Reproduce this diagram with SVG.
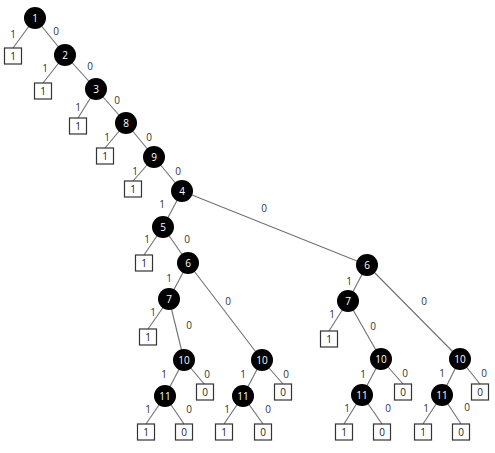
<svg xmlns="http://www.w3.org/2000/svg" width="495" height="453" viewBox="0 0 495 453">
<style>
.e{stroke:#707070;stroke-width:1.1;fill:none}
.c{fill:#000}
.b{fill:#fff;stroke:#333;stroke-width:1.2}
.t{font-family:"Open Sans","Liberation Sans",sans-serif;font-size:10px;text-anchor:middle;dominant-baseline:central}
.w{fill:#fff}
.k{fill:#222}
.l{font-family:"Open Sans","Liberation Sans",sans-serif;font-size:10px;text-anchor:middle;dominant-baseline:central;fill:#333}
</style>
<rect width="495" height="453" fill="#fff"/>
<g id="connectors">
<line class="e" x1="35" y1="18" x2="13" y2="48"/>
<line class="e" x1="35" y1="18" x2="65" y2="55"/>
<line class="e" x1="65" y1="55" x2="43" y2="83"/>
<line class="e" x1="65" y1="55" x2="96" y2="89"/>
<line class="e" x1="96" y1="89" x2="78" y2="118"/>
<line class="e" x1="96" y1="89" x2="126" y2="123"/>
<line class="e" x1="126" y1="123" x2="105" y2="148"/>
<line class="e" x1="126" y1="123" x2="154" y2="157"/>
<line class="e" x1="154" y1="157" x2="133" y2="181"/>
<line class="e" x1="154" y1="157" x2="182" y2="191"/>
<line class="e" x1="182" y1="191" x2="163" y2="227"/>
<line class="e" x1="182" y1="191" x2="367" y2="265"/>
<line class="e" x1="163" y1="227" x2="144" y2="255"/>
<line class="e" x1="163" y1="227" x2="188" y2="263"/>
<line class="e" x1="188" y1="263" x2="169" y2="299"/>
<line class="e" x1="188" y1="263" x2="262" y2="360"/>
<line class="e" x1="169" y1="299" x2="148" y2="329"/>
<line class="e" x1="169" y1="299" x2="184" y2="360"/>
<line class="e" x1="184" y1="360" x2="165" y2="396"/>
<line class="e" x1="184" y1="360" x2="205" y2="385"/>
<line class="e" x1="165" y1="396" x2="146" y2="424"/>
<line class="e" x1="165" y1="396" x2="184" y2="424"/>
<line class="e" x1="262" y1="360" x2="243" y2="396"/>
<line class="e" x1="262" y1="360" x2="283" y2="384"/>
<line class="e" x1="243" y1="396" x2="224" y2="424"/>
<line class="e" x1="243" y1="396" x2="263" y2="424"/>
<line class="e" x1="367" y1="265" x2="348" y2="301"/>
<line class="e" x1="367" y1="265" x2="460" y2="359"/>
<line class="e" x1="348" y1="301" x2="329" y2="331"/>
<line class="e" x1="348" y1="301" x2="381" y2="359"/>
<line class="e" x1="381" y1="359" x2="362" y2="395"/>
<line class="e" x1="381" y1="359" x2="403" y2="384"/>
<line class="e" x1="362" y1="395" x2="344" y2="424"/>
<line class="e" x1="362" y1="395" x2="382" y2="424"/>
<line class="e" x1="460" y1="359" x2="442" y2="395"/>
<line class="e" x1="460" y1="359" x2="480" y2="384"/>
<line class="e" x1="442" y1="395" x2="423" y2="424"/>
<line class="e" x1="442" y1="395" x2="461" y2="424"/>
</g>
<g id="edge-labels">
<text class="l" x="13" y="34">1</text><text class="l" x="56" y="31">0</text>
<text class="l" x="45" y="68">1</text><text class="l" x="90" y="66">0</text>
<text class="l" x="78" y="107">1</text><text class="l" x="117" y="100">0</text>
<text class="l" x="107" y="137">1</text><text class="l" x="149" y="137">0</text>
<text class="l" x="135" y="171">1</text><text class="l" x="178" y="171">0</text>
<text class="l" x="162" y="204">1</text><text class="l" x="264" y="208">0</text>
<text class="l" x="147" y="239">1</text><text class="l" x="187" y="239">0</text>
<text class="l" x="169" y="278">1</text><text class="l" x="228" y="301">0</text>
<text class="l" x="153" y="312">1</text><text class="l" x="189" y="325">0</text>
<text class="l" x="164" y="374">1</text><text class="l" x="207" y="374">0</text>
<text class="l" x="148" y="409">1</text><text class="l" x="189" y="409">0</text>
<text class="l" x="243" y="374">1</text><text class="l" x="286" y="374">0</text>
<text class="l" x="227" y="409">1</text><text class="l" x="268" y="409">0</text>
<text class="l" x="349" y="281">1</text><text class="l" x="424" y="301">0</text>
<text class="l" x="332" y="314">1</text><text class="l" x="373" y="326">0</text>
<text class="l" x="363" y="374">1</text><text class="l" x="405" y="373">0</text>
<text class="l" x="347" y="408">1</text><text class="l" x="388" y="408">0</text>
<text class="l" x="442" y="373">1</text><text class="l" x="484" y="373">0</text>
<text class="l" x="426" y="408">1</text><text class="l" x="467" y="407">0</text>
</g>
<g id="node-1"><circle class="c" cx="35" cy="18" r="11"/><text class="t w" x="35" y="18">1</text></g>
<g id="node-2"><circle class="c" cx="65" cy="55" r="11"/><text class="t w" x="65" y="55">2</text></g>
<g id="node-3"><circle class="c" cx="96" cy="89" r="11"/><text class="t w" x="96" y="89">3</text></g>
<g id="node-8"><circle class="c" cx="126" cy="123" r="11"/><text class="t w" x="126" y="123">8</text></g>
<g id="node-9"><circle class="c" cx="154" cy="157" r="11"/><text class="t w" x="154" y="157">9</text></g>
<g id="node-4"><circle class="c" cx="182" cy="191" r="11"/><text class="t w" x="182" y="191">4</text></g>
<g id="node-5"><circle class="c" cx="163" cy="227" r="11"/><text class="t w" x="163" y="227">5</text></g>
<g id="node-6a"><circle class="c" cx="188" cy="263" r="11"/><text class="t w" x="188" y="263">6</text></g>
<g id="node-7a"><circle class="c" cx="169" cy="299" r="11"/><text class="t w" x="169" y="299">7</text></g>
<g id="node-10a"><circle class="c" cx="184" cy="360" r="11"/><text class="t w" x="184" y="360">10</text></g>
<g id="node-11a"><circle class="c" cx="165" cy="396" r="11"/><text class="t w" x="165" y="396">11</text></g>
<g id="node-10b"><circle class="c" cx="262" cy="360" r="11"/><text class="t w" x="262" y="360">10</text></g>
<g id="node-11b"><circle class="c" cx="243" cy="396" r="11"/><text class="t w" x="243" y="396">11</text></g>
<g id="node-6b"><circle class="c" cx="367" cy="265" r="11"/><text class="t w" x="367" y="265">6</text></g>
<g id="node-7b"><circle class="c" cx="348" cy="301" r="11"/><text class="t w" x="348" y="301">7</text></g>
<g id="node-10c"><circle class="c" cx="381" cy="359" r="11"/><text class="t w" x="381" y="359">10</text></g>
<g id="node-11c"><circle class="c" cx="362" cy="395" r="11"/><text class="t w" x="362" y="395">11</text></g>
<g id="node-10d"><circle class="c" cx="460" cy="359" r="11"/><text class="t w" x="460" y="359">10</text></g>
<g id="node-11d"><circle class="c" cx="442" cy="395" r="11"/><text class="t w" x="442" y="395">11</text></g>
<g id="leaf-1"><rect class="b" x="4.5" y="48" width="17" height="16"/><text class="t k" x="13" y="56">1</text></g>
<g id="leaf-2"><rect class="b" x="34.5" y="83" width="17" height="16"/><text class="t k" x="43" y="91">1</text></g>
<g id="leaf-3"><rect class="b" x="69.5" y="118" width="17" height="16"/><text class="t k" x="78" y="126">1</text></g>
<g id="leaf-8"><rect class="b" x="96.5" y="148" width="17" height="16"/><text class="t k" x="105" y="156">1</text></g>
<g id="leaf-9"><rect class="b" x="124.5" y="181" width="17" height="16"/><text class="t k" x="133" y="189">1</text></g>
<g id="leaf-5"><rect class="b" x="135.5" y="255" width="17" height="16"/><text class="t k" x="144" y="263">1</text></g>
<g id="leaf-7a"><rect class="b" x="139.5" y="329" width="17" height="16"/><text class="t k" x="148" y="337">1</text></g>
<g id="leaf-10a"><rect class="b" x="196.5" y="384" width="17" height="16"/><text class="t k" x="205" y="392">0</text></g>
<g id="leaf-11a-1"><rect class="b" x="137.5" y="424" width="17" height="16"/><text class="t k" x="146" y="432">1</text></g>
<g id="leaf-11a-0"><rect class="b" x="175.5" y="424" width="17" height="16"/><text class="t k" x="184" y="432">0</text></g>
<g id="leaf-10b"><rect class="b" x="274.5" y="384" width="17" height="16"/><text class="t k" x="283" y="392">0</text></g>
<g id="leaf-11b-1"><rect class="b" x="215.5" y="424" width="17" height="16"/><text class="t k" x="224" y="432">1</text></g>
<g id="leaf-11b-0"><rect class="b" x="254.5" y="424" width="17" height="16"/><text class="t k" x="263" y="432">0</text></g>
<g id="leaf-7b"><rect class="b" x="320.5" y="331" width="17" height="16"/><text class="t k" x="329" y="339">1</text></g>
<g id="leaf-10c"><rect class="b" x="394.5" y="384" width="17" height="16"/><text class="t k" x="403" y="392">0</text></g>
<g id="leaf-11c-1"><rect class="b" x="335.5" y="424" width="17" height="16"/><text class="t k" x="344" y="432">1</text></g>
<g id="leaf-11c-0"><rect class="b" x="373.5" y="424" width="17" height="16"/><text class="t k" x="382" y="432">0</text></g>
<g id="leaf-10d"><rect class="b" x="471.5" y="384" width="17" height="16"/><text class="t k" x="480" y="392">0</text></g>
<g id="leaf-11d-1"><rect class="b" x="414.5" y="424" width="17" height="16"/><text class="t k" x="423" y="432">1</text></g>
<g id="leaf-11d-0"><rect class="b" x="452.5" y="424" width="17" height="16"/><text class="t k" x="461" y="432">0</text></g>
</svg>
